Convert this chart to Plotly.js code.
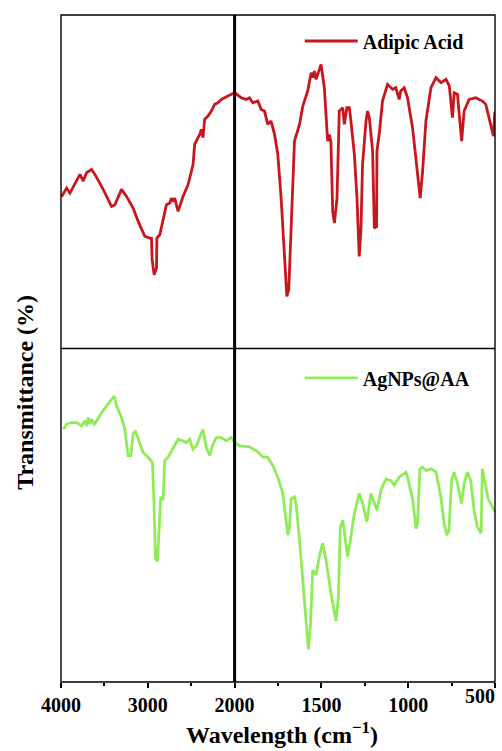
<!DOCTYPE html>
<html><head><meta charset="utf-8">
<script src="https://cdn.plot.ly/plotly-3.0.1.min.js"></script>
<style>html,body{margin:0;padding:0;background:#fff}#chart{width:502px;height:751px}</style>
</head><body><div id="chart"></div>
<script>
// ---- data (wavenumber cm^-1, relative transmittance) ----
const seriesNames = ['Adipic Acid', 'AgNPs@AA'];
const adipicWn = [3992,3935,3897,3858,3782,3744,3705,3648,3609,3514,3418,3379,3303,3245,3169,3111,3034,2977,2958,2950,2927,2900,2895,2862,2785,2747,2728,2709,2690,2651,2594,2537,2479,2460,2402,2383,2364,2345,2307,2268,2230,2192,2153,2077,2000,
  1962,1933,1914,1895,1866,1847,1828,1809,1790,1770,1751,1732,1713,1699,1688,1674,1655,1626,1607,1579,1559,1550,1540,1531,1511,1502,1483,1464,1454,1445,1435,1425,1410,1397,1377,1368,1353,1339,1330,1310,1295,1282,1272,1263,1243,1234,1224,1205,1195,1182,1180,1166,1148,1119,1090,1071,1052,1043,1023,1004,975,946,931,917,898,869,840,811,782,763,745,735,716,706,692,678,649,611,572,553,534,509,501];
const adipicT = [45.6,48.1,46.6,48.6,52.2,50.2,52.7,53.7,52.2,47.7,42.6,43.1,47.7,45.6,42.1,38.1,33.6,33.1,33.1,26.6,22.1,24.1,33.1,34.1,43.1,43.6,45.1,44.1,45.1,41.1,45.6,49.1,55.1,61.2,64.2,65.7,63.2,68.7,69.7,71.2,73.2,73.7,74.7,75.7,76.7,
  75.2,74.7,75.2,73.7,74.2,71.7,71.2,67.2,68.2,64.2,58.2,45.1,26.1,15.6,17.6,39.1,62.2,67.2,72.7,77.2,82.7,81.2,83.2,80.7,83.7,85.2,78.2,62.2,64.2,61.7,41.1,37.6,45.1,71.2,72.2,67.2,72.2,72.2,68.2,58.2,45.1,27.6,36.1,55.1,68.2,71.2,69.2,59.2,36.1,36.6,59.2,64.7,74.2,79.2,77.7,78.2,74.7,77.2,78.2,75.2,66.2,51.2,45.1,53.2,68.2,78.2,81.2,79.7,80.7,78.7,69.2,76.7,76.2,70.2,62.2,71.2,74.7,75.2,74.2,73.2,69.2,63.7,71.0];
const agWn = [3973,3935,3878,3820,3763,3724,3705,3686,3667,3648,3617,3590,3533,3456,3387,3360,3303,3265,3226,3196,3169,3143,3093,3054,2996,2947,2931,2912,2889,2870,2851,2824,2805,2766,2709,2651,2594,2556,2517,2479,2441,2402,2364,2326,2287,2249,2211,2153,2096,2038,2000,
  1971,1914,1895,1866,1837,1809,1780,1751,1722,1709,1693,1684,1674,1655,1645,1626,1607,1588,1575,1563,1550,1531,1512,1493,1473,1445,1416,1402,1391,1377,1364,1349,1333,1310,1282,1262,1238,1215,1201,1180,1157,1128,1099,1080,1052,1013,1004,975,955,946,933,917,898,869,840,812,793,778,765,750,736,716,693,678,659,640,621,602,580,573,560,540,510,500];
const agT = [75.8,77.3,77.8,77.8,76.8,78.3,76.8,79.3,77.3,78.8,77.3,78.3,80.8,83.2,85.7,82.8,79.3,75.8,67.9,67.9,74.3,75.3,71.3,68.8,67.4,65.9,55.5,37.1,36.1,46.5,55.5,54.5,66.4,67.4,70.3,72.8,72.3,71.8,72.8,69.8,70.8,73.3,75.8,70.3,67.9,71.3,73.3,73.3,72.3,73.3,71.8,
  70.8,70.5,70.0,69.0,67.4,67.4,64.9,61.4,56.5,51.6,44.0,46.5,55.0,55.5,53.0,42.6,30.7,16.8,9.8,16.8,33.6,32.1,37.6,41.6,36.6,26.7,18.3,25.7,46.5,48.5,43.6,37.6,42.6,50.5,56.5,53.5,48.0,56.5,54.5,51.5,57.5,60.9,60.4,59.0,61.4,62.9,61.4,55.0,46.0,47.6,63.9,64.4,63.4,63.9,63.0,55.5,47.6,44.0,45.6,60.5,62.9,59.5,53.5,59.5,62.9,60.5,51.6,46.6,44.6,63.9,60.5,55.0,52.0,51.0];
const leftTicks = [4000, 3000, 2000];
const rightTicks = [1500, 1000];
const endTick = [500];
const leftMinor = [3500, 2500];
const rightMinor = [1750, 1250, 750];
const breakWn = 2000;

const RED = '#c8161d', GREEN = '#8fec57';
const FONT = '"Liberation Serif", "DejaVu Serif", serif';
const B = s => '<b>' + s + '</b>';
const SPLIT = 0.4; // fraction of plot width given to 4000-2000

function part(wn, t, left) {
  const xs = [], ys = [];
  wn.forEach((w, i) => { if (left ? w >= breakWn : w <= breakWn) { xs.push(w); ys.push(t[i]); } });
  return {x: xs, y: ys};
}
function mk(wn, t, left, xa, ya, color, name, leg, show) {
  const p = part(wn, t, left);
  return {x: p.x, y: p.y, xaxis: xa, yaxis: ya, type: 'scatter', mode: 'lines', name: B(name),
    legend: leg, showlegend: show, line: {color: color, width: 2.8}, hoverinfo: 'skip'};
}
const data = [
  mk(adipicWn, adipicT, true, 'x', 'y2', RED, seriesNames[0], 'legend', true),
  mk(adipicWn, adipicT, false, 'x2', 'y2', RED, seriesNames[0], 'legend', false),
  mk(agWn, agT, true, 'x', 'y', GREEN, seriesNames[1], 'legend2', true),
  mk(agWn, agT, false, 'x2', 'y', GREEN, seriesNames[1], 'legend2', false),
  // invisible helper so the end-label axis is laid out
  {x: [], y: [], xaxis: 'x3', yaxis: 'y', type: 'scatter', mode: 'lines', showlegend: false, hoverinfo: 'skip'}
];
const tickFont = {family: FONT, size: 20, color: '#000'};
const xcommon = {showgrid: false, zeroline: false, showline: false, ticks: 'outside', ticklen: 5, tickwidth: 2,
  tickcolor: '#000', tickfont: tickFont, anchor: 'y', tickmode: 'array'};
const yhide = {showgrid: false, zeroline: false, showline: false, showticklabels: false, ticks: '', range: [0, 100], anchor: 'x'};
const legFont = {family: FONT, size: 20, color: '#000'};
const layout = {
  width: 502, height: 751,
  margin: {l: 61, r: 7, t: 15, b: 69},
  paper_bgcolor: '#fff', plot_bgcolor: '#fff',
  font: {family: FONT},
  xaxis: Object.assign({}, xcommon, {domain: [0, SPLIT], range: [4000, breakWn], tickvals: leftTicks,
    ticktext: leftTicks.map(B),
    minor: {tickmode: 'array', tickvals: leftMinor, ticks: 'outside', ticklen: 3, tickwidth: 2, tickcolor: '#000'}}),
  xaxis2: Object.assign({}, xcommon, {domain: [SPLIT, 1], range: [breakWn, 500], tickvals: rightTicks.concat(endTick),
    ticktext: rightTicks.map(B).concat(['']),
    minor: {tickmode: 'array', tickvals: rightMinor, ticks: 'outside', ticklen: 3, tickwidth: 2, tickcolor: '#000'}}),
  xaxis3: Object.assign({}, xcommon, {domain: [SPLIT, 1], range: [breakWn, 500], overlaying: 'x2', tickvals: endTick,
    ticktext: endTick.map(B), ticks: '', ticklabelposition: 'outside left'}),
  yaxis: Object.assign({}, yhide, {domain: [0, 0.5]}),
  yaxis2: Object.assign({}, yhide, {domain: [0.5, 1]}),
  showlegend: true,
  legend: {x: 0.55, y: 0.961, xanchor: 'left', yanchor: 'middle', bgcolor: 'rgba(0,0,0,0)', font: legFont, itemwidth: 53},
  legend2: {x: 0.55, y: 0.456, xanchor: 'left', yanchor: 'middle', bgcolor: 'rgba(0,0,0,0)', font: legFont, itemwidth: 53},
  shapes: [
    {type: 'rect', xref: 'paper', yref: 'paper', x0: 0, x1: 1, y0: 0, y1: 1, line: {color: '#000', width: 1.4}},
    {type: 'line', xref: 'paper', yref: 'paper', x0: 0, x1: 1, y0: 0.5, y1: 0.5, line: {color: '#000', width: 1.4}},
    // the 2000 cm-1 break line sits on the domain boundary (paper ref so it is not clipped)
    {type: 'line', xref: 'paper', yref: 'paper', x0: SPLIT, x1: SPLIT, y0: 0, y1: 1, line: {color: '#000', width: 3}}
  ],
  annotations: [
    {xref: 'paper', yref: 'paper', x: 0.509, y: -0.1025, xanchor: 'center', yanchor: 'bottom', showarrow: false,
      text: B('Wavelength (cm<sup>−1</sup>)'), font: {family: FONT, size: 24, color: '#000'}},
    {xref: 'paper', yref: 'paper', x: -0.083, y: 0.435, xanchor: 'center', yanchor: 'middle', showarrow: false, textangle: -90,
      text: B('Transmittance (%)'), font: {family: FONT, size: 24, color: '#000'}}
  ]
};
Plotly.newPlot('chart', data, layout, {displayModeBar: false, staticPlot: true});
</script></body></html>
